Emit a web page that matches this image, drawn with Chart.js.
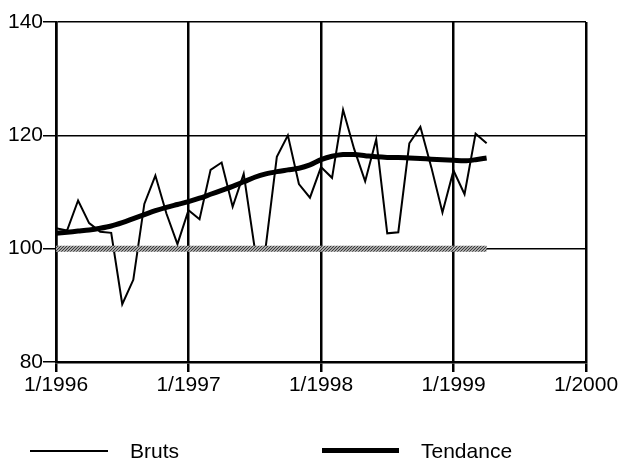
<!DOCTYPE html>
<html>
<head>
<meta charset="utf-8">
<script src="https://cdn.jsdelivr.net/npm/chart.js@4/dist/chart.umd.min.js"></script>
<style>
    body { margin: 0; background: #fff; }
    #wrap { position: relative; width: 623px; height: 460px; }
    .leg { position: absolute; font: 21px "Liberation Sans", Arial, sans-serif; color: #000; }
    .line { position: absolute; background: #000; }
</style>
</head>
<body>
<div id="wrap">
    <canvas id="chart" width="623" height="460"></canvas>
    <div class="line" style="left:30px; top:450px; width:78px; height:2px;"></div>
    <div class="leg" style="left:130px; top:439px;">Bruts</div>
    <div class="line" style="left:322px; top:448px; width:77px; height:5px;"></div>
    <div class="leg" style="left:421px; top:439px;">Tendance</div>
</div>
<script>
// monthly values, 1/1996 .. 4/1999
const bruts = [103.6, 103.2, 108.5, 104.5, 103, 102.8, 90.2, 94.5, 107.9, 112.9, 106.2, 100.8,
    106.8, 105.2, 113.9, 115.2, 107.4, 113.2, 100, 100.4, 116.2, 120, 111.4, 109,
    114.4, 112.5, 124.5, 117.6, 111.9, 119.3, 102.7, 102.9, 118.6, 121.5, 114.3, 106.4,
    113.8, 109.6, 120.3, 118.6];
const tendance = [102.7, 102.9, 103.1, 103.3, 103.6, 104.0, 104.6, 105.3, 106.0, 106.7, 107.3, 107.8,
    108.3, 108.9, 109.6, 110.3, 111.0, 111.8, 112.6, 113.2, 113.6, 113.9, 114.2, 114.8,
    115.7, 116.3, 116.6, 116.6, 116.4, 116.2, 116.1, 116.1, 116.0, 115.9, 115.8, 115.7,
    115.6, 115.5, 115.7, 116.0];
const base = bruts.map(() => 100);
const yearLabels = ['1/1996', '1/1997', '1/1998', '1/1999', '1/2000'];

const font = { family: '"Liberation Sans", Arial, sans-serif', size: 21 };

function toPoints(arr) {
    return arr.map((v, i) => ({ x: i, y: v }));
}

// dithered grey like the printed base line
function greyPattern() {
    let c = document.createElement('canvas');
    c.width = 3; c.height = 3;
    let g = c.getContext('2d');
    g.fillStyle = '#a8a8a8';
    g.fillRect(0, 0, 3, 3);
    g.fillStyle = '#3a3a3a';
    g.fillRect(0, 0, 1, 1);
    g.fillRect(2, 1, 1, 1);
    g.fillRect(1, 2, 1, 1);
    return g.createPattern(c, 'repeat');
}

new Chart(document.getElementById('chart'), {
    type: 'line',
    data: {
        datasets: [{
            label: 'Base',
            data: toPoints(base),
            borderColor: greyPattern(),
            borderWidth: 6,
            pointRadius: 0
        }, {
            label: 'Tendance',
            data: toPoints(tendance),
            borderColor: '#000',
            borderWidth: 5,
            pointRadius: 0,
            tension: 0.3
        }, {
            label: 'Bruts',
            data: toPoints(bruts),
            borderColor: '#000',
            borderWidth: 2,
            pointRadius: 0
        }]
    },
    options: {
        responsive: false,
        animation: false,
        layout: { padding: { top: 22, right: 37 } },
        plugins: { legend: { display: false }, tooltip: { enabled: false } },
        scales: {
            x: {
                type: 'linear',
                min: 0,
                max: 48,
                afterFit: s => { s.height = 98; },
                ticks: {
                    stepSize: 12,
                    color: '#000',
                    font: font,
                    padding: 1,
                    maxRotation: 0,
                    callback: v => yearLabels[v / 12]
                },
                grid: { color: '#000', lineWidth: 2.5, tickLength: 10 },
                border: { color: '#000', width: 2.5 }
            },
            y: {
                min: 80,
                max: 140,
                afterFit: s => { s.width = 56; },
                ticks: { stepSize: 20, color: '#000', font: font, padding: 0 },
                grid: { color: '#000', lineWidth: 1.5, tickLength: 13 },
                border: { color: '#000', width: 2.5 }
            }
        }
    }
});
</script>
</body>
</html>
